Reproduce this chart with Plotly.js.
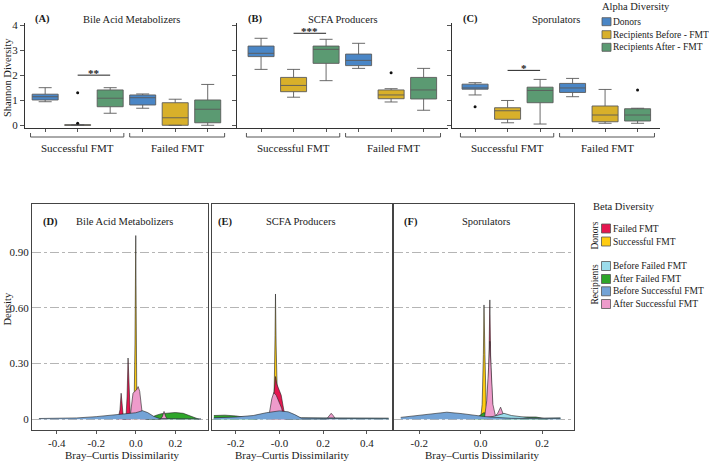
<!DOCTYPE html>
<html><head><meta charset="utf-8">
<script src="https://cdn.plot.ly/plotly-3.0.1.min.js"></script>
<style>html,body{margin:0;padding:0;background:#fff}#chart{width:709px;height:463px}</style>
</head><body><div id="chart"></div>
<script>
// ---------- DATA: Alpha diversity (Shannon) box statistics ----------
const boxCategories = ['Successful FMT: Donors','Successful FMT: Recipients Before','Successful FMT: Recipients After',
                       'Failed FMT: Donors','Failed FMT: Recipients Before','Failed FMT: Recipients After'];
const alphaGroups = ['Donors','Recipients Before - FMT','Recipients After - FMT'];
const outcomeLabels = ['Successful FMT','Failed FMT'];
const panelTitles = ['Bile Acid Metabolizers','SCFA Producers','Sporulators'];
const panelTagsTop = ['(A)','(B)','(C)'];
const panelTagsBottom = ['(D)','(E)','(F)'];

// Bile Acid Metabolizers
const baQ1  = [1.01, 0.00, 0.74, 0.81, 0.00, 0.10];
const baMed = [1.14, 0.01, 1.08, 1.10, 0.30, 0.64];
const baQ3  = [1.24, 0.02, 1.41, 1.21, 0.90, 1.01];
const baLo  = [0.94, 0.00, 0.48, 0.68, 0.00, 0.00];
const baHi  = [1.50, 0.03, 1.50, 1.25, 1.04, 1.63];
const baOutCat = [1, 1];
const baOutY   = [1.30, 0.08];
// SCFA Producers
const scQ1  = [2.74, 1.34, 2.47, 2.38, 1.06, 1.05];
const scMed = [2.87, 1.59, 3.03, 2.59, 1.21, 1.41];
const scQ3  = [3.16, 1.91, 3.16, 2.84, 1.41, 1.91];
const scLo  = [2.23, 1.12, 1.78, 2.27, 0.93, 0.60];
const scHi  = [3.47, 2.23, 3.43, 3.27, 1.46, 2.27];
const scOutCat = [4];
const scOutY   = [2.10];
// Sporulators
const spQ1  = [1.44, 0.24, 0.90, 1.31, 0.14, 0.17];
const spMed = [1.49, 0.58, 1.39, 1.49, 0.41, 0.41];
const spQ3  = [1.64, 0.70, 1.52, 1.67, 0.77, 0.66];
const spLo  = [1.21, 0.10, 0.05, 1.14, 0.08, 0.08];
const spHi  = [1.70, 0.99, 1.83, 1.87, 1.43, 0.68];
const spOutCat = [0, 5];
const spOutY   = [0.74, 1.41];
// significance brackets (between recipients before & after, successful FMT)
const sigLevels = [2.00, 3.67, 2.19];
const sigLabels = ['**', '***', '*'];

// ---------- DATA: Beta diversity densities (Bray–Curtis) ----------
const betaGroups = ['Failed FMT','Successful FMT','Before Failed FMT','After Failed FMT','Before Successful FMT','After Successful FMT'];
// (D) Bile Acid Metabolizers
const dYellowX = [-0.016,-0.008,-0.004,-0.002,0.0,0.002,0.005,0.01];
const dYellowY = [0,0.1,0.4,0.8,0.99,0.6,0.15,0];
const dRedX = [-0.09,-0.08,-0.074,-0.068,-0.062,-0.05,-0.044,-0.039,-0.033,-0.027];
const dRedY = [0,0.05,0.14,0.05,0,0,0.12,0.33,0.1,0];
const dGreenX = [0.06,0.1,0.13,0.16,0.2,0.24,0.28,0.32];
const dGreenY = [0,0.02,0.03,0.034,0.036,0.032,0.014,0];
const dPinkX = [-0.03,-0.022,-0.014,-0.005,0.005,0.012,0.02,0.034,0.05,0.125,0.135,0.143,0.151,0.16];
const dPinkY = [0,0.09,0.14,0.15,0.16,0.176,0.15,0.02,0,0,0.015,0.042,0.015,0];
const dBlueX = [-0.49,-0.4,-0.3,-0.2,-0.1,-0.05,0.0,0.034,0.06,0.09,0.12,0.2,0.33];
const dBlueY = [0.004,0.005,0.007,0.014,0.024,0.028,0.035,0.046,0.036,0.016,0.004,0.003,0.002];
// (E) SCFA Producers
const eYellowX = [-0.03,-0.024,-0.02,-0.018,-0.015,-0.01,-0.003];
const eYellowY = [0,0.15,0.45,0.675,0.4,0.15,0];
const eRedX = [-0.035,-0.025,-0.018,-0.012,-0.003,0.008,0.02,0.03];
const eRedY = [0,0.12,0.23,0.19,0.167,0.13,0.05,0];
const eGreenX = [-0.3,-0.25,-0.2,-0.15,-0.1];
const eGreenY = [0.02,0.022,0.018,0.01,0];
const ePinkX = [-0.055,-0.045,-0.035,-0.026,-0.015,-0.005,0.01,0.02,0.03,0.215,0.228,0.237,0.246,0.258];
const ePinkY = [0,0.04,0.11,0.143,0.13,0.1,0.06,0.01,0,0,0.02,0.032,0.02,0];
const eCyanX = [-0.3,-0.1,0.0,0.1,0.3,0.5];
const eCyanY = [0.005,0.01,0.012,0.008,0.006,0.006];
const eBlueX = [-0.3,-0.2,-0.12,-0.06,0.0,0.04,0.07,0.1,0.2,0.3,0.5];
const eBlueY = [0.008,0.012,0.02,0.035,0.045,0.04,0.025,0.006,0.004,0.003,0.003];
// (F) Sporulators
const fYellowX = [0.0,0.005,0.009,0.011,0.014,0.018,0.024];
const fYellowY = [0,0.08,0.35,0.616,0.35,0.08,0];
const fRedX = [0.022,0.027,0.03,0.033,0.04];
const fRedY = [0,0.3,0.643,0.3,0];
const fGreenX = [-0.02,0.0,0.01,0.03,0.05,0.1,0.15,0.18,0.22];
const fGreenY = [0,0.025,0.035,0.03,0.01,0.005,0.012,0.012,0];
const fPinkX = [0.012,0.02,0.026,0.03,0.034,0.04,0.048,0.055,0.065,0.072,0.08];
const fPinkY = [0,0.1,0.28,0.42,0.28,0.08,0.02,0.03,0.065,0.03,0];
const fCyanX = [0.0,0.04,0.07,0.076,0.1,0.15,0.2,0.26];
const fCyanY = [0.005,0.015,0.028,0.032,0.02,0.01,0.006,0.008];
const fBlueX = [-0.26,-0.2,-0.15,-0.11,-0.06,-0.02,0.01,0.03,0.06,0.1,0.2,0.26];
const fBlueY = [0.01,0.02,0.032,0.038,0.03,0.02,0.015,0.012,0.008,0.005,0.003,0.004];

// ---------- STYLE ----------
const FONT = 'Liberation Serif';
const FS = 10.5;
const LFS = 9.5;
const TXT = '#1a1a1a';
const boxColors = ['#4A86C6','#D8B02A','#5B9A72'];
const betaColors = {
  'Failed FMT':'#E5164F','Successful FMT':'#FFCC11','Before Failed FMT':'#9BDCEB',
  'After Failed FMT':'#2EA62A','Before Successful FMT':'#73A3D6','After Successful FMT':'#EE9BCB'
};
const W = 709, H = 463;
const fx = p => p / W, fy = p => 1 - p / H;

const traces = [];
const topPanels = [
  {xa:'x', ya:'y', q1:baQ1, med:baMed, q3:baQ3, lo:baLo, hi:baHi, oc:baOutCat, oy:baOutY},
  {xa:'x2', ya:'y2', q1:scQ1, med:scMed, q3:scQ3, lo:scLo, hi:scHi, oc:scOutCat, oy:scOutY},
  {xa:'x3', ya:'y3', q1:spQ1, med:spMed, q3:spQ3, lo:spLo, hi:spHi, oc:spOutCat, oy:spOutY}
];
topPanels.forEach((p, i) => {
  for (let g = 0; g < 3; g++) {
    const idx = [g, g + 3];
    traces.push({
      type:'box', xaxis:p.xa, yaxis:p.ya, name:alphaGroups[g],
      x: idx.map(k => boxCategories[k]),
      q1: idx.map(k => p.q1[k]), median: idx.map(k => p.med[k]), q3: idx.map(k => p.q3[k]),
      lowerfence: idx.map(k => p.lo[k]), upperfence: idx.map(k => p.hi[k]),
      boxpoints:false, width:0.8, whiskerwidth:0.5,
      fillcolor: boxColors[g], line:{color:'#5a5a5a', width:0.9},
      showlegend:false, hoverinfo:'y'
    });
  }
  traces.push({
    type:'scatter', mode:'markers', xaxis:p.xa, yaxis:p.ya,
    x: p.oc.map(k => boxCategories[k]), y: p.oy,
    marker:{color:'#111', size:3}, showlegend:false, hoverinfo:'y'
  });
  traces.push({
    type:'scatter', mode:'lines', xaxis:p.xa, yaxis:p.ya,
    x:[boxCategories[1], boxCategories[2]], y:[sigLevels[i], sigLevels[i]],
    line:{color:'#222', width:1}, showlegend:false, hoverinfo:'skip'
  });
});

const bottomPanels = [
  {xa:'x4', ya:'y4', series:[
    ['Successful FMT', dYellowX, dYellowY], ['Failed FMT', dRedX, dRedY],
    ['After Failed FMT', dGreenX, dGreenY], ['After Successful FMT', dPinkX, dPinkY],
    ['Before Successful FMT', dBlueX, dBlueY]]},
  {xa:'x5', ya:'y5', series:[
    ['Successful FMT', eYellowX, eYellowY], ['Failed FMT', eRedX, eRedY],
    ['After Failed FMT', eGreenX, eGreenY], ['After Successful FMT', ePinkX, ePinkY],
    ['Before Failed FMT', eCyanX, eCyanY], ['Before Successful FMT', eBlueX, eBlueY]]},
  {xa:'x6', ya:'y6', series:[
    ['Successful FMT', fYellowX, fYellowY], ['Failed FMT', fRedX, fRedY],
    ['After Failed FMT', fGreenX, fGreenY], ['After Successful FMT', fPinkX, fPinkY],
    ['Before Failed FMT', fCyanX, fCyanY], ['Before Successful FMT', fBlueX, fBlueY]]}
];
bottomPanels.forEach(p => {
  p.series.forEach(s => {
    traces.push({
      type:'scatter', mode:'lines', xaxis:p.xa, yaxis:p.ya, name:s[0],
      x:s[1], y:s[2], fill:'tozeroy', fillcolor:betaColors[s[0]],
      line:{color:'#222', width:0.6}, showlegend:false, hoverinfo:'x+y'
    });
  });
});

// ---------- AXES ----------
const topX = (dom, rng, anchor) => ({
  domain:dom, range:rng, anchor:anchor, type:'category',
  categoryorder:'array', categoryarray:boxCategories,
  showline:true, linecolor:'#333', linewidth:1, ticks:'outside', ticklen:3, tickcolor:'#555',
  showticklabels:false, showgrid:false, zeroline:false, fixedrange:true
});
const topY = (anchor, labels) => ({
  domain:[fy(128.3), fy(22.5)], range:[-0.12, 4.1], anchor:anchor,
  tickvals:[0,1,2,3,4], showticklabels:labels, tickfont:{family:FONT, size:FS+0.5, color:TXT},
  showline:true, linecolor:'#333', linewidth:1, ticks:'outside', ticklen:4, tickcolor:'#555',
  showgrid:false, zeroline:false, fixedrange:true
});
const botX = (dom, rng, anchor, tv, tt) => ({
  domain:dom, range:rng, anchor:anchor, tickvals:tv, ticktext:tt,
  tickfont:{family:FONT, size:FS+0.5, color:TXT},
  showline:true, mirror:true, linecolor:'#444', linewidth:1, ticks:'outside', ticklen:3, tickcolor:'#555',
  showgrid:false, zeroline:false, fixedrange:true
});
const botY = (anchor, labels) => ({
  domain:[fy(430), fy(204)], range:[-0.058, 1.16], anchor:anchor,
  tickvals:[0,0.3,0.6,0.9], ticktext:['0','0.30','0.60','0.90'], showticklabels:labels,
  tickfont:{family:FONT, size:FS+0.5, color:TXT}, ticks:'',
  showline:true, mirror:true, linecolor:'#444', linewidth:1,
  showgrid:true, gridcolor:'#b5b5b5', gridwidth:1, griddash:'dashdot', zeroline:false, fixedrange:true
});

const layout = {
  width:W, height:H, margin:{l:0, r:0, t:0, b:0}, paper_bgcolor:'#fff', plot_bgcolor:'#fff',
  showlegend:false, boxmode:'overlay', font:{family:FONT, size:FS, color:TXT},
  xaxis:  topX([fx(25), fx(236)], [-0.62, 5.87], 'y'),
  xaxis2: topX([fx(237), fx(448)], [-0.74, 5.75], 'y2'),
  xaxis3: topX([fx(452), fx(660)], [-0.71, 5.69], 'y3'),
  yaxis:  topY('x', true),
  yaxis2: topY('x2', false),
  yaxis3: topY('x3', false),
  xaxis4: botX([fx(32), fx(208.3)], [-0.525, 0.367], 'y4', [-0.4,-0.2,0,0.2], ['-0.4','-0.2','0.0','0.2']),
  xaxis5: botX([fx(211.7), fx(391.7)], [-0.31, 0.514], 'y5', [-0.2,0,0.2,0.4], ['-0.2','-0.0','0.2','0.4']),
  xaxis6: botX([fx(394.3), fx(574)], [-0.281, 0.304], 'y6', [-0.2,0,0.2], ['-0.2','0.0','0.2']),
  yaxis4: botY('x4', true),
  yaxis5: botY('x5', false),
  yaxis6: botY('x6', false),
  shapes:[], annotations:[]
};

const ann = (o) => Object.assign({showarrow:false, borderpad:0, font:{family:FONT, size:FS, color:TXT}}, o);
const A = layout.annotations, S = layout.shapes;

// top panel titles
const topTagX = [42.5, 255.5, 470], topTitleX = [131, 343, 556];
for (let i = 0; i < 3; i++) {
  A.push(ann({xref:'paper', yref:'paper', x:fx(topTagX[i]), y:fy(19), text:'<b>'+panelTagsTop[i]+'</b>', xanchor:'center', yanchor:'middle'}));
  A.push(ann({xref:'paper', yref:'paper', x:fx(topTitleX[i]), y:fy(19.5), text:panelTitles[i], xanchor:'center', yanchor:'middle'}));
}
A.push(ann({xref:'paper', yref:'paper', x:fx(7), y:fy(78), text:'Shannon Diversity', textangle:-90, xanchor:'center', yanchor:'middle'}));

// brackets and significance
['x','x2','x3'].forEach((xa, i) => {
  const ya = ['y','y2','y3'][i];
  [[-0.45, 2.42], [2.6, 5.52]].forEach((b, j) => {
    S.push({type:'line', xref:xa, yref:'paper', x0:b[0], x1:b[1], y0:fy(137), y1:fy(137), line:{color:'#555', width:1}});
    S.push({type:'line', xref:xa, yref:'paper', x0:b[0], x1:b[0], y0:fy(137), y1:fy(133), line:{color:'#555', width:1}});
    S.push({type:'line', xref:xa, yref:'paper', x0:b[1], x1:b[1], y0:fy(137), y1:fy(133), line:{color:'#555', width:1}});
    A.push(ann({xref:xa, yref:'paper', x:(b[0]+b[1])/2, y:fy(148), text:outcomeLabels[j], xanchor:'center', yanchor:'middle', font:{family:FONT, size:FS+0.5, color:TXT}}));
  });
  A.push(ann({xref:xa, yref:ya, x:1.5, y:sigLevels[i], text:'<b>'+sigLabels[i]+'</b>', xanchor:'center', yanchor:'middle', yshift:2, font:{family:FONT, size:FS+0.5, color:'#222'}}));
});

// alpha legend
A.push(ann({xref:'paper', yref:'paper', x:fx(601), y:fy(6.5), text:'Alpha Diversity', xanchor:'left', yanchor:'middle'}));
const alphaLegY = [21.7, 34.7, 47.3];
alphaGroups.forEach((g, k) => {
  S.push({type:'rect', xref:'paper', yref:'paper', x0:fx(602), x1:fx(611), y0:fy(alphaLegY[k]+4), y1:fy(alphaLegY[k]-4),
          fillcolor:boxColors[k], line:{color:'#555', width:0.8}});
  A.push(ann({xref:'paper', yref:'paper', x:fx(612), y:fy(alphaLegY[k]), text:g, xanchor:'left', yanchor:'middle', font:{family:FONT, size:LFS, color:TXT}}));
});

// bottom panel titles
const botTagX = [50, 225.5, 411], botTitleX = [124.7, 301, 486], botXTitle = [121.7, 292, 482];
for (let i = 0; i < 3; i++) {
  A.push(ann({xref:'paper', yref:'paper', x:fx(botTagX[i]), y:fy(221.7), text:'<b>'+panelTagsBottom[i]+'</b>', xanchor:'center', yanchor:'middle'}));
  A.push(ann({xref:'paper', yref:'paper', x:fx(botTitleX[i]), y:fy(222), text:panelTitles[i], xanchor:'center', yanchor:'middle'}));
  A.push(ann({xref:'paper', yref:'paper', x:fx(botXTitle[i]), y:fy(455), text:'Bray–Curtis Dissimilarity', xanchor:'center', yanchor:'middle', font:{family:FONT, size:FS+0.5, color:TXT}}));
}
A.push(ann({xref:'paper', yref:'paper', x:fx(6.5), y:fy(309), text:'Density', textangle:-90, xanchor:'center', yanchor:'middle'}));

// beta legend
A.push(ann({xref:'paper', yref:'paper', x:fx(592), y:fy(206.5), text:'Beta Diversity', xanchor:'left', yanchor:'middle'}));
const betaLegY = [228.5, 241.5, 266, 279, 291.3, 304];
betaGroups.forEach((g, k) => {
  S.push({type:'rect', xref:'paper', yref:'paper', x0:fx(601.5), x1:fx(610.5), y0:fy(betaLegY[k]+4.5), y1:fy(betaLegY[k]-4.5),
          fillcolor:betaColors[g], line:{color:'#555', width:0.8}});
  A.push(ann({xref:'paper', yref:'paper', x:fx(612), y:fy(betaLegY[k]), text:g, xanchor:'left', yanchor:'middle', font:{family:FONT, size:LFS, color:TXT}}));
});
A.push(ann({xref:'paper', yref:'paper', x:fx(594.5), y:fy(236), text:'Donors', textangle:-90, xanchor:'center', yanchor:'middle', font:{family:FONT, size:LFS, color:TXT}}));
A.push(ann({xref:'paper', yref:'paper', x:fx(594.5), y:fy(285), text:'Recipients', textangle:-90, xanchor:'center', yanchor:'middle', font:{family:FONT, size:LFS, color:TXT}}));

Plotly.newPlot('chart', traces, layout, {staticPlot:true, displayModeBar:false});
</script></body></html>
